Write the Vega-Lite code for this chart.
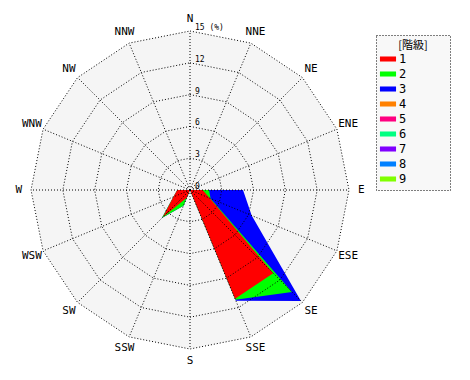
{
  "$schema": "https://vega.github.io/schema/vega-lite/v6.json",
  "width": 318,
  "height": 318,
  "autosize": "none",
  "padding": {"left": 31, "top": 31, "right": 121, "bottom": 31},
  "background": "white",
  "config": {"view": {"stroke": null}, "text": {"font": "DejaVu Sans Mono"}},
  "datasets": {
    "dirs": [
      {"dir": "N", "i": 0, "rings": [3, 6, 9, 12, 15]},
      {"dir": "NNE", "i": 1, "rings": [3, 6, 9, 12, 15]},
      {"dir": "NE", "i": 2, "rings": [3, 6, 9, 12, 15]},
      {"dir": "ENE", "i": 3, "rings": [3, 6, 9, 12, 15]},
      {"dir": "E", "i": 4, "rings": [3, 6, 9, 12, 15]},
      {"dir": "ESE", "i": 5, "rings": [3, 6, 9, 12, 15]},
      {"dir": "SE", "i": 6, "rings": [3, 6, 9, 12, 15]},
      {"dir": "SSE", "i": 7, "rings": [3, 6, 9, 12, 15]},
      {"dir": "S", "i": 8, "rings": [3, 6, 9, 12, 15]},
      {"dir": "SSW", "i": 9, "rings": [3, 6, 9, 12, 15]},
      {"dir": "SW", "i": 10, "rings": [3, 6, 9, 12, 15]},
      {"dir": "WSW", "i": 11, "rings": [3, 6, 9, 12, 15]},
      {"dir": "W", "i": 12, "rings": [3, 6, 9, 12, 15]},
      {"dir": "WNW", "i": 13, "rings": [3, 6, 9, 12, 15]},
      {"dir": "NW", "i": 14, "rings": [3, 6, 9, 12, 15]},
      {"dir": "NNW", "i": 15, "rings": [3, 6, 9, 12, 15]}
    ],
    "wind": [
      {"dir": "N", "i": 0, "class": 1, "value": 0},
      {"dir": "NNE", "i": 1, "class": 1, "value": 1.0},
      {"dir": "NE", "i": 2, "class": 1, "value": 0},
      {"dir": "ENE", "i": 3, "class": 1, "value": 0},
      {"dir": "E", "i": 4, "class": 1, "value": 1.2},
      {"dir": "ESE", "i": 5, "class": 1, "value": 2.0},
      {"dir": "SE", "i": 6, "class": 1, "value": 11.1},
      {"dir": "SSE", "i": 7, "class": 1, "value": 11.1},
      {"dir": "S", "i": 8, "class": 1, "value": 0},
      {"dir": "SSW", "i": 9, "class": 1, "value": 0.8},
      {"dir": "SW", "i": 10, "class": 1, "value": 3.6},
      {"dir": "WSW", "i": 11, "class": 1, "value": 1.7},
      {"dir": "W", "i": 12, "class": 1, "value": 1.2},
      {"dir": "WNW", "i": 13, "class": 1, "value": 0},
      {"dir": "NW", "i": 14, "class": 1, "value": 0},
      {"dir": "NNW", "i": 15, "class": 1, "value": 0},
      {"dir": "N", "i": 0, "class": 2, "value": 0},
      {"dir": "NNE", "i": 1, "class": 2, "value": 0},
      {"dir": "NE", "i": 2, "class": 2, "value": 0},
      {"dir": "ENE", "i": 3, "class": 2, "value": 0},
      {"dir": "E", "i": 4, "class": 2, "value": 0.6},
      {"dir": "ESE", "i": 5, "class": 2, "value": 0.1},
      {"dir": "SE", "i": 6, "class": 2, "value": 2.5},
      {"dir": "SSE", "i": 7, "class": 2, "value": 0.1},
      {"dir": "S", "i": 8, "class": 2, "value": 0},
      {"dir": "SSW", "i": 9, "class": 2, "value": 0.8},
      {"dir": "SW", "i": 10, "class": 2, "value": 0.15},
      {"dir": "WSW", "i": 11, "class": 2, "value": 0},
      {"dir": "W", "i": 12, "class": 2, "value": 0},
      {"dir": "WNW", "i": 13, "class": 2, "value": 0},
      {"dir": "NW", "i": 14, "class": 2, "value": 1.1},
      {"dir": "NNW", "i": 15, "class": 2, "value": 0},
      {"dir": "N", "i": 0, "class": 3, "value": 0},
      {"dir": "NNE", "i": 1, "class": 3, "value": 0},
      {"dir": "NE", "i": 2, "class": 3, "value": 0},
      {"dir": "ENE", "i": 3, "class": 3, "value": 0},
      {"dir": "E", "i": 4, "class": 3, "value": 3.2},
      {"dir": "ESE", "i": 5, "class": 3, "value": 4.2},
      {"dir": "SE", "i": 6, "class": 3, "value": 1.2},
      {"dir": "SSE", "i": 7, "class": 3, "value": 0.1},
      {"dir": "S", "i": 8, "class": 3, "value": 0},
      {"dir": "SSW", "i": 9, "class": 3, "value": 0},
      {"dir": "SW", "i": 10, "class": 3, "value": 0},
      {"dir": "WSW", "i": 11, "class": 3, "value": 0},
      {"dir": "W", "i": 12, "class": 3, "value": 0},
      {"dir": "WNW", "i": 13, "class": 3, "value": 0},
      {"dir": "NW", "i": 14, "class": 3, "value": 0},
      {"dir": "NNW", "i": 15, "class": 3, "value": 0}
    ],
    "ticks": [
      {"t": 0, "label": "0"},
      {"t": 3, "label": "3"},
      {"t": 6, "label": "6"},
      {"t": 9, "label": "9"},
      {"t": 12, "label": "12"},
      {"t": 15, "label": "15 (%)"}
    ]
  },
  "layer": [
    {
      "data": {"name": "dirs"},
      "transform": [
        {"flatten": ["rings"]},
        {"filter": "datum.rings == 15"},
        {"calculate": "datum.rings*sin(datum.i*PI/8)", "as": "x"},
        {"calculate": "datum.rings*cos(datum.i*PI/8)", "as": "y"}
      ],
      "mark": {"type": "line", "filled": true, "fill": "#f5f5f5", "interpolate": "linear-closed"},
      "encoding": {
        "x": {"field": "x", "type": "quantitative", "scale": {"domain": [-15, 15]}, "axis": null},
        "y": {"field": "y", "type": "quantitative", "scale": {"domain": [-15, 15]}, "axis": null},
        "order": {"field": "i", "type": "quantitative"}
      }
    },
    {
      "data": {"name": "wind"},
      "transform": [
        {"window": [{"op": "sum", "field": "value", "as": "cum"}], "groupby": ["dir"], "sort": [{"field": "class", "order": "ascending"}], "frame": [null, 0]},
        {"filter": "datum.class == 3"},
        {"calculate": "datum.cum*sin(datum.i*PI/8)", "as": "x"},
        {"calculate": "datum.cum*cos(datum.i*PI/8)", "as": "y"}
      ],
      "mark": {"type": "line", "filled": true, "interpolate": "linear-closed", "fillOpacity": 1},
      "encoding": {
        "x": {"field": "x", "type": "quantitative", "scale": {"domain": [-15, 15]}, "axis": null},
        "y": {"field": "y", "type": "quantitative", "scale": {"domain": [-15, 15]}, "axis": null},
        "order": {"field": "i", "type": "quantitative"},
        "color": {
          "field": "class", "type": "nominal",
          "scale": {"domain": [1, 2, 3, 4, 5, 6, 7, 8, 9], "range": ["#ff0000", "#00ff00", "#0000ff", "#ff8000", "#ff0080", "#00ff80", "#8000ff", "#0080ff", "#80ff00"]},
          "legend": {
            "title": "[階級]", "orient": "none", "legendX": 345, "legendY": 4,
            "titleFont": "Noto Sans CJK JP", "titleFontSize": 11, "titleFontWeight": "normal", "titleAnchor": "middle", "titlePadding": 1, "titleColor": "black",
            "labelFont": "DejaVu Sans Mono", "labelFontSize": 12, "labelColor": "black",
            "labelExpr": "datum.label + '    \u2800'",
            "symbolType": "M-1.15,-0.36H1.15V0.36H-1.15Z", "symbolSize": 196, "symbolStrokeWidth": 0, "symbolOpacity": 1,
            "rowPadding": 2, "labelOffset": 4, "padding": 5,
            "strokeColor": "black", "fillColor": "#f8f8f8",
            "encode": {"legend": {"update": {"strokeDash": {"value": [1, 2]}}}}
          }
        }
      }
    },
    {
      "data": {"name": "wind"},
      "transform": [
        {"window": [{"op": "sum", "field": "value", "as": "cum"}], "groupby": ["dir"], "sort": [{"field": "class", "order": "ascending"}], "frame": [null, 0]},
        {"filter": "datum.class == 2"},
        {"calculate": "datum.cum*sin(datum.i*PI/8)", "as": "x"},
        {"calculate": "datum.cum*cos(datum.i*PI/8)", "as": "y"}
      ],
      "mark": {"type": "line", "filled": true, "interpolate": "linear-closed", "fillOpacity": 1},
      "encoding": {
        "x": {"field": "x", "type": "quantitative", "scale": {"domain": [-15, 15]}, "axis": null},
        "y": {"field": "y", "type": "quantitative", "scale": {"domain": [-15, 15]}, "axis": null},
        "order": {"field": "i", "type": "quantitative"},
        "color": {"field": "class", "type": "nominal"}
      }
    },
    {
      "data": {"name": "wind"},
      "transform": [
        {"window": [{"op": "sum", "field": "value", "as": "cum"}], "groupby": ["dir"], "sort": [{"field": "class", "order": "ascending"}], "frame": [null, 0]},
        {"filter": "datum.class == 1"},
        {"calculate": "datum.cum*sin(datum.i*PI/8)", "as": "x"},
        {"calculate": "datum.cum*cos(datum.i*PI/8)", "as": "y"}
      ],
      "mark": {"type": "line", "filled": true, "interpolate": "linear-closed", "fillOpacity": 1},
      "encoding": {
        "x": {"field": "x", "type": "quantitative", "scale": {"domain": [-15, 15]}, "axis": null},
        "y": {"field": "y", "type": "quantitative", "scale": {"domain": [-15, 15]}, "axis": null},
        "order": {"field": "i", "type": "quantitative"},
        "color": {"field": "class", "type": "nominal"}
      }
    },
    {
      "data": {"name": "dirs"},
      "transform": [
        {"flatten": ["rings"]},
        {"calculate": "datum.rings*sin(datum.i*PI/8)", "as": "x"},
        {"calculate": "datum.rings*cos(datum.i*PI/8)", "as": "y"}
      ],
      "mark": {"type": "line", "stroke": "black", "strokeWidth": 1, "strokeDash": [1, 2], "interpolate": "linear-closed"},
      "encoding": {
        "x": {"field": "x", "type": "quantitative", "scale": {"domain": [-15, 15]}, "axis": null},
        "y": {"field": "y", "type": "quantitative", "scale": {"domain": [-15, 15]}, "axis": null},
        "detail": {"field": "rings", "type": "nominal"},
        "order": {"field": "i", "type": "quantitative"}
      }
    },
    {
      "data": {"name": "dirs"},
      "transform": [
        {"flatten": ["rings"]},
        {"filter": "datum.rings == 15"},
        {"calculate": "datum.rings*sin(datum.i*PI/8)", "as": "x"},
        {"calculate": "datum.rings*cos(datum.i*PI/8)", "as": "y"},
        {"calculate": "0*datum.rings", "as": "o"}
      ],
      "mark": {"type": "rule", "stroke": "black", "strokeWidth": 1, "strokeDash": [1, 2]},
      "encoding": {
        "x": {"field": "o", "type": "quantitative", "scale": {"domain": [-15, 15]}, "axis": null},
        "y": {"field": "o", "type": "quantitative", "scale": {"domain": [-15, 15]}, "axis": null},
        "x2": {"field": "x"},
        "y2": {"field": "y"}
      }
    },
    {
      "data": {"name": "dirs"},
      "transform": [
        {"calculate": "16.15*sin(datum.i*PI/8)", "as": "x"},
        {"calculate": "16.15*cos(datum.i*PI/8)", "as": "y"}
      ],
      "mark": {"type": "text", "fontSize": 11, "align": "center", "baseline": "middle", "color": "black"},
      "encoding": {
        "x": {"field": "x", "type": "quantitative", "scale": {"domain": [-15, 15]}, "axis": null},
        "y": {"field": "y", "type": "quantitative", "scale": {"domain": [-15, 15]}, "axis": null},
        "text": {"field": "dir", "type": "nominal"}
      }
    },
    {
      "data": {"name": "ticks"},
      "transform": [
        {"calculate": "0*datum.t", "as": "o"}
      ],
      "mark": {"type": "text", "fontSize": 8, "align": "left", "baseline": "alphabetic", "dx": 5, "dy": -1, "color": "black"},
      "encoding": {
        "x": {"field": "o", "type": "quantitative", "scale": {"domain": [-15, 15]}, "axis": null},
        "y": {"field": "t", "type": "quantitative", "scale": {"domain": [-15, 15]}, "axis": null},
        "text": {"field": "label", "type": "nominal"}
      }
    }
  ]
}
